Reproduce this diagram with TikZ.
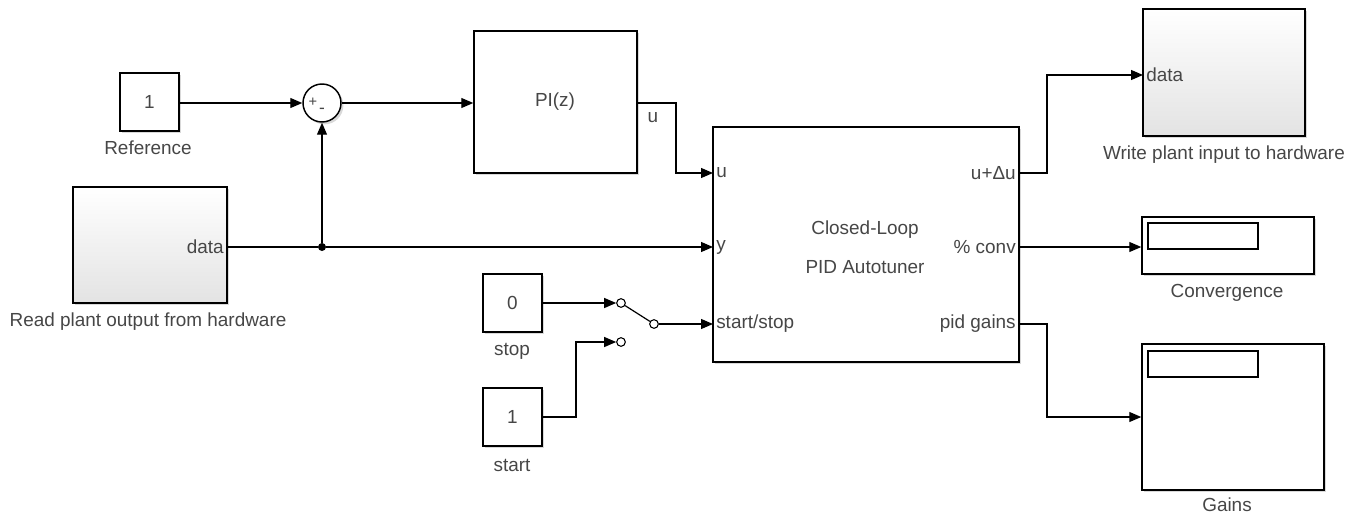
\documentclass[tikz,border=0pt]{standalone}
\usepackage{fontspec}
\setmainfont{Liberation Sans}
\usetikzlibrary{arrows.meta,shadows,fit,calc}
\definecolor{txt}{RGB}{70,70,70}
\begin{document}
\begin{tikzpicture}[x=0.75pt,y=-0.75pt,
  font=\fontsize{14.2}{16}\selectfont,
  every node/.style={text=txt},
  blk/.style={draw=black, line width=1.1pt, fill=white, inner sep=0pt,
    drop shadow={shadow xshift=1.8pt, shadow yshift=-1.8pt, opacity=0.3}},
  grad/.style={blk, top color=white, bottom color=gray!22},
  wire/.style={line width=0.9pt},
  arr/.style={wire, -{Triangle[length=9pt,width=7.5pt]}},
  sw/.style={circle, draw=black, line width=0.8pt, inner sep=0pt, minimum size=6.5pt, fill=white},
  port/.style={inner sep=1.5pt}]
\useasboundingbox (0,0) rectangle (1353,514);

% blocks
\node[blk, fit={(120,73)(179,131)}] (ref) {};
\node at (ref) {1};
\node at (148,148) {Reference};

\node[blk, circle, minimum size=28.5pt] (sum) at (322,103) {};
\node[font=\fontsize{11}{11}\selectfont] at (313,102) {+};
\node[font=\fontsize{13}{13}\selectfont] at (322,111) {-};

\node[blk, fit={(474,31)(637,173)}] (pi) {};
\node at (555,102) {PI(z)};
\node at (653,118) {u};

\node[blk, fit={(713,127)(1019,362)}] (tuner) {};
\node at (865,230) {Closed-Loop};
\node at (865,267) {PID Autotuner};
\node[port, anchor=west] at (714,173) {u};
\node[port, anchor=west] at (714,247) {y};
\node[port, anchor=west] at (714,324) {start/stop};
\node[port, anchor=east] at (1018,173) {u+Δu};
\node[port, anchor=east] at (1018,247) {\% conv};
\node[port, anchor=east] at (1018,324) {pid gains};
\coordinate (tU) at (713,173);
\coordinate (tY) at (713,247);
\coordinate (tS) at (713,324);
\coordinate (oU) at (1019,173);
\coordinate (oC) at (1019,247);
\coordinate (oG) at (1019,324);

\node[grad, fit={(73,187)(227,303)}] (read) {};
\node[port, anchor=east] at (226,247) {data};
\node at (148,322) {Read plant output from hardware};

\node[blk, fit={(483,274)(542,332)}] (stop) {};
\node at (stop) {0};
\node at (512,351) {stop};

\node[blk, fit={(483,388)(542,446)}] (start) {};
\node at (start) {1};
\node at (512,465) {start};

\node[grad, fit={(1143,9)(1305,136)}] (write) {};
\node[port, anchor=west] at (1144,75) {data};
\node at (1224,155) {Write plant input to hardware};
\coordinate (wIn) at (1143,75);

\node[blk, fit={(1142,217)(1314,274)}] (conv) {};
\draw[line width=1pt] (1148,223) rectangle (1258,249);
\node at (1227,293) {Convergence};

\node[blk, fit={(1142,344)(1324,490)}] (gains) {};
\draw[line width=1pt] (1148,351) rectangle (1258,377);
\node at (1227,505) {Gains};

% switch
\node[sw] (s1) at (621,303) {};
\node[sw] (s2) at (654,324) {};
\node[sw] (s3) at (621,342) {};

% junction
\node[circle, fill=black, inner sep=0pt, minimum size=6pt] (j) at (322,247) {};

% wires
\draw[arr] (ref.east |- sum) -- (sum.west);
\draw[arr] (sum.east) -- (pi.west |- sum.east);
\draw[arr] (pi.east |- sum.east) -- (676,103) |- (tU);
\draw[wire] (read.east |- j) -- (j);
\draw[arr] (j) -- (tY);
\draw[arr] (j) -- (sum.south);
\draw[arr] (stop.east) -- (s1.west);
\draw[arr] (start.east) -- (576,417) |- (s3.west);
\draw[wire] (s1) -- (s2);
\draw[arr] (s2.east) -- (tS);
\draw[arr] (oU) -- (1047,173) |- (wIn);
\draw[arr] (oC) -- (conv.west |- oC);
\draw[arr] (oG) -- (1047,324) |- (gains.west);
\end{tikzpicture}
\end{document}
